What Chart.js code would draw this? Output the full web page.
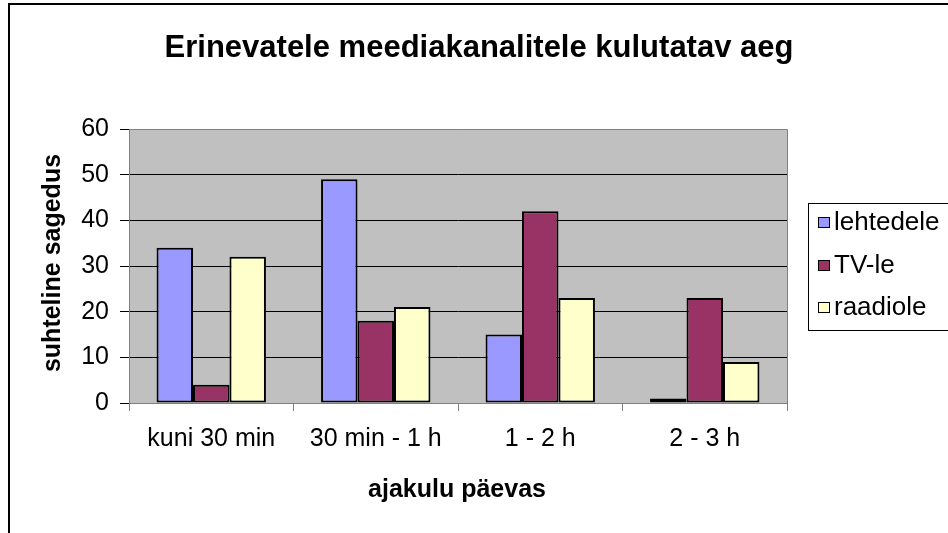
<!DOCTYPE html>
<html>
<head>
<meta charset="utf-8">
<script src="https://cdn.jsdelivr.net/npm/chart.js@4.4.1/dist/chart.umd.min.js"></script>
<style>
  html, body { margin: 0; padding: 0; background: #fff; overflow: hidden; }
  #wrap { position: relative; width: 948px; height: 533px; overflow: hidden; }
  #frame { position: absolute; left: 8px; top: 3px; width: 1000px; height: 600px; border: 2px solid #000; box-sizing: border-box; }
  canvas { position: absolute; left: 0; top: 0; }
</style>
</head>
<body>
<div id="wrap">
  <div id="frame"></div>
  <canvas id="chart" width="948" height="533"></canvas>
</div>
<script>
// data
const categories = ['kuni 30 min', '30 min - 1 h', '1 - 2 h', '2 - 3 h'];
const seriesNames = ['lehtedele', 'TV-le', 'raadiole'];
const lehtedele = [34, 49, 15, 1];
const tvLe = [4, 18, 42, 23];
const raadiole = [32, 21, 23, 9];
const yTicks = [0, 10, 20, 30, 40, 50, 60];

const chartTitle = 'Erinevatele meediakanalitele kulutatav aeg';
const xTitle = 'ajakulu päevas';
const yTitle = 'suhteline sagedus';

const FONT = '"Liberation Sans", Arial, sans-serif';
const colors = ['#9999ff', '#993366', '#ffffcc'];

// plot background, frame, titles and the boxed legend (Excel look)
const excelLook = {
  id: 'excelLook',
  beforeDraw(chart) {
    const { ctx, chartArea: a } = chart;
    ctx.save();
    ctx.fillStyle = '#c0c0c0';
    ctx.fillRect(a.left, a.top, a.right - a.left, a.bottom - a.top);
    ctx.restore();
  },
  afterDatasetsDraw(chart) {
    const { ctx, chartArea: a } = chart;
    ctx.save();
    ctx.strokeStyle = '#808080';
    ctx.lineWidth = 1;
    ctx.beginPath();
    ctx.moveTo(a.left, Math.round(a.top) + 0.5);
    ctx.lineTo(Math.round(a.right) + 0.5, Math.round(a.top) + 0.5);
    ctx.lineTo(Math.round(a.right) + 0.5, a.bottom);
    ctx.stroke();
    ctx.restore();
  },
  afterDraw(chart) {
    const { ctx } = chart;
    ctx.save();
    ctx.fillStyle = '#000';

    // main title
    ctx.font = 'bold 31px ' + FONT;
    ctx.textAlign = 'center';
    ctx.textBaseline = 'alphabetic';
    ctx.fillText(chartTitle, 479, 57);

    // x axis title
    ctx.font = 'bold 25px ' + FONT;
    ctx.fillText(xTitle, 457, 497);

    // y axis title
    ctx.save();
    ctx.translate(60, 263);
    ctx.rotate(-Math.PI / 2);
    ctx.fillText(yTitle, 0, 0);
    ctx.restore();

    // legend
    ctx.strokeStyle = '#000';
    ctx.lineWidth = 1;
    ctx.strokeRect(808.5, 203.5, 200, 127);
    ctx.font = '26px ' + FONT;
    ctx.textAlign = 'left';
    ctx.textBaseline = 'middle';
    chart.data.datasets.forEach((ds, i) => {
      const cy = 222 + i * 42.5;
      ctx.fillStyle = ds.backgroundColor;
      ctx.fillRect(818, Math.round(cy - 5), 11, 10);
      ctx.strokeRect(818.5, Math.round(cy - 5) + 0.5, 11, 10);
      ctx.fillStyle = '#000';
      ctx.fillText(ds.label, 834, cy + 1);
    });
    ctx.restore();
  }
};

const seriesValues = [lehtedele, tvLe, raadiole];

new Chart(document.getElementById('chart'), {
  type: 'bar',
  data: {
    labels: categories,
    datasets: seriesNames.map((name, i) => ({
      label: name,
      data: seriesValues[i],
      backgroundColor: colors[i],
      borderColor: '#000',
      borderWidth: 2,
      borderSkipped: false,
      categoryPercentage: 0.665,
      barPercentage: 1.0
    }))
  },
  options: {
    responsive: false,
    animation: false,
    layout: { padding: { top: 129, right: 161, left: 0, bottom: 0 } },
    plugins: {
      legend: { display: false },
      title: { display: false },
      tooltip: { enabled: false }
    },
    scales: {
      x: {
        type: 'category',
        offset: true,
        afterFit(scale) { scale.height = 130; },
        grid: {
          offset: true,
          drawOnChartArea: false,
          drawTicks: true,
          tickLength: 8,
          tickColor: '#808080'
        },
        border: { color: '#808080', width: 1 },
        ticks: {
          color: '#000',
          font: { family: FONT, size: 25 },
          padding: 13,
          maxRotation: 0,
          autoSkip: false
        }
      },
      y: {
        min: 0,
        max: 60,
        afterFit(scale) { scale.width = 129; },
        afterBuildTicks(scale) { scale.ticks = yTicks.map(v => ({ value: v })); },
        grid: {
          color: ctx => (ctx.tick && (ctx.tick.value === 60 || ctx.tick.value === 0)) ? '#808080' : '#000',
          lineWidth: 1,
          tickLength: 9,
          tickColor: '#000'
        },
        border: { color: '#808080', width: 1 },
        ticks: {
          color: '#000',
          font: { family: FONT, size: 25 },
          padding: 11
        }
      }
    }
  },
  plugins: [excelLook]
});
</script>
</body>
</html>
